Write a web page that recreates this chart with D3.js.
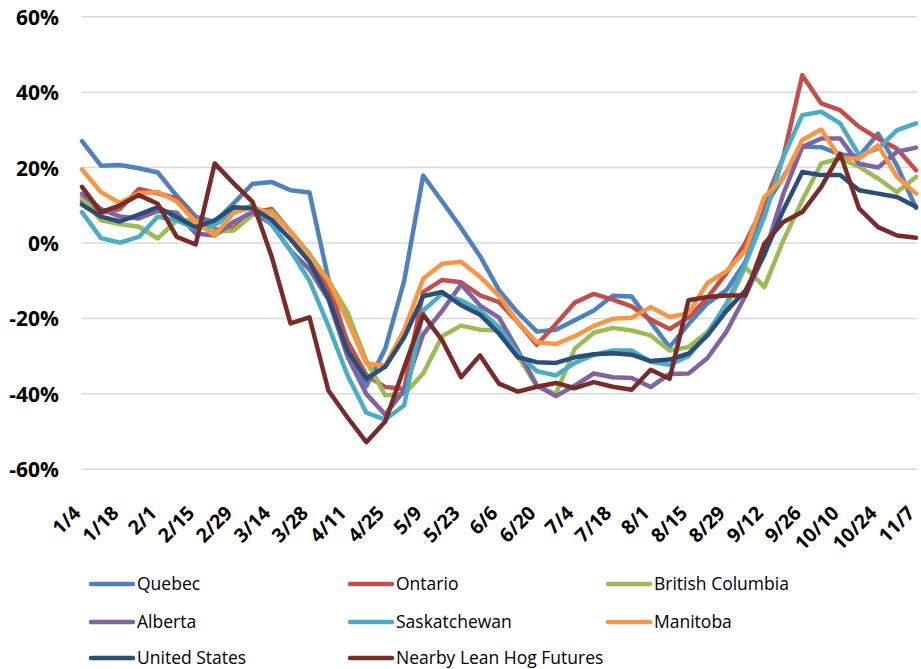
<!DOCTYPE html>
<html>
<head>
<meta charset="utf-8">
<script src="https://cdn.jsdelivr.net/npm/d3@7"></script>
<style>
  html, body { margin: 0; padding: 0; background: #fff; }
  svg { display: block; }
  .tick-y { font-family: "Open Sans", sans-serif; font-weight: 700; font-size: 21px; fill: #000; }
  .tick-x { font-family: "Open Sans", sans-serif; font-weight: 700; font-size: 19.5px; fill: #000; }
  .legend-text { font-family: "Open Sans", sans-serif; font-size: 17.5px; fill: #000; }
</style>
</head>
<body>
<svg id="chart" width="921" height="669"></svg>
<script>
// Weekly dates (2020), one per observation
const weeks = ["1/4","1/11","1/18","1/25","2/1","2/8","2/15","2/22","2/29","3/7","3/14","3/21","3/28",
  "4/4","4/11","4/18","4/25","5/2","5/9","5/16","5/23","5/30","6/6","6/13","6/20","6/27","7/4",
  "7/11","7/18","7/25","8/1","8/8","8/15","8/22","8/29","9/5","9/12","9/19","9/26","10/3","10/10",
  "10/17","10/24","10/31","11/7"];

// Year-over-year change, percent
const quebec = [27, 20.5, 20.7, 19.8, 18.7, 12.5, 7, 5.5, 10.5, 15.7, 16.2, 14, 13.4, -9.6, -27, -38, -28, -10, 17.9, 11, 4, -3.5, -12.5, -18.5, -23.5, -23, -20.5, -17.9, -14, -14.2, -21, -27.6, -21.5, -16, -12.5, -5, 9.5, 17.5, 25.6, 25.4, 23.5, 23, 29, 20.5, 9.3];
const ontario = [11, 8, 9, 14.3, 13.2, 11.8, 6, 3.5, 4, 8, 9, 3, -3, -12, -26, -35, -38.2, -38.7, -13, -9.8, -10.4, -13.9, -15.7, -21, -27, -21.5, -15.8, -13.5, -15, -16.8, -20.3, -22.8, -19.7, -14.5, -8, 0, 10.4, 22.8, 44.5, 37, 35.2, 30.8, 27.7, 25, 19.3];
const britishColumbia = [12, 6, 5, 4.3, 1.2, 6, 6, 3, 3.3, 7.5, 8.5, 3, -3, -9.9, -18.3, -31.2, -40.4, -40, -34.6, -24.7, -21.9, -23, -23.2, -30, -38, -40, -28, -23.8, -22.5, -23.2, -24.5, -28.5, -27.6, -23.6, -17, -6.4, -11.7, 0.7, 11.3, 21.1, 22.4, 20.2, 17.1, 13.5, 17.5];
const alberta = [13, 9, 7, 6.5, 8.5, 8, 2.5, 2, 5.6, 8.2, 5, -2, -7, -15, -30, -40, -45.5, -39, -24.2, -18, -11, -16.6, -19.8, -28.5, -37.8, -40.6, -37.8, -34.6, -35.6, -35.8, -38.2, -34.7, -34.6, -30.5, -23.5, -14, -3, 13, 25.5, 27.7, 27.7, 21, 20, 24.2, 25.3];
const saskatchewan = [8.2, 1.3, 0.1, 1.6, 7, 6, 3.8, 4.7, 8.2, 10, 5, -2, -10, -22, -35, -45, -46.8, -43, -17.9, -13.5, -15.2, -17.9, -22.3, -29.4, -34, -35.1, -31.8, -29.7, -28.5, -28.5, -31.5, -32.3, -30, -24, -16, -5.5, 6.9, 22.8, 33.9, 34.8, 31.7, 23.3, 25, 29.9, 31.7];
const manitoba = [19.5, 13.5, 10.6, 13.2, 13.5, 11, 5.6, 2, 8, 9.5, 7.8, 3, -3.5, -10, -20.5, -32, -32.5, -23, -9.5, -5.5, -5, -9, -14, -21, -26.3, -26.8, -24.7, -22, -20.1, -19.8, -17, -19.6, -18.6, -10.6, -7.5, -2, 12.2, 17.1, 27.3, 30.1, 22.4, 22.4, 25.9, 17.5, 13.1];
const unitedStates = [10.2, 7, 5.7, 7.5, 9.5, 6.8, 4.2, 6, 9.5, 9.2, 6.2, 1, -5, -14.5, -28.5, -36, -32.8, -25, -14.1, -13, -16.5, -19, -24, -30.3, -31.6, -31.8, -30.3, -29.5, -29.2, -29.6, -31.3, -30.9, -29.3, -24.5, -18, -12.6, -3, 8.7, 18.8, 18, 18, 14, 13.1, 12.2, 9.6];
const leanHogFutures = [14.9, 8.2, 10, 12.7, 10.4, 1.6, -0.4, 21.1, 15.8, 10.9, -3.5, -21.3, -19.7, -39.1, -46.2, -52.8, -47.3, -33, -19, -25.8, -35.6, -29.8, -37.3, -39.4, -38.1, -37.1, -38.5, -36.9, -38.1, -38.9, -33.6, -36, -15.2, -14.3, -13.9, -13.9, -0.2, 5.6, 8.2, 14.9, 23.7, 9.1, 4.2, 2, 1.4];

const seriesNames = ["Quebec", "Ontario", "British Columbia", "Alberta", "Saskatchewan", "Manitoba", "United States", "Nearby Lean Hog Futures"];
const seriesValues = [quebec, ontario, britishColumbia, alberta, saskatchewan, manitoba, unitedStates, leanHogFutures];
const seriesColors = ["#4F81BD", "#C0504D", "#9BBB59", "#8064A2", "#4BACC6", "#F79646", "#2C4D75", "#772C2A"];

const yTicks = [-60, -40, -20, 0, 20, 40, 60];
const xTickLabels = weeks.filter((d, i) => i % 2 === 0);

const svg = d3.select("#chart");

const x = d3.scalePoint().domain(weeks).range([82, 916]);
const y = d3.scaleLinear().domain([-60, 60]).range([469.3, 16.7]);

// Horizontal gridlines
svg.append("g")
  .selectAll("line")
  .data(yTicks)
  .join("line")
  .attr("x1", 82).attr("x2", 917)
  .attr("y1", d => y(d)).attr("y2", d => y(d))
  .attr("stroke", "#D9D9D9")
  .attr("stroke-width", 1.5);

// Y axis labels
const yAxis = d3.axisLeft(y).tickValues(yTicks).tickFormat(d => d + "%").tickSize(0).tickPadding(0);
const yAxisG = svg.append("g").attr("transform", "translate(59,0)").call(yAxis);
yAxisG.select(".domain").remove();
yAxisG.selectAll("text").attr("class", "tick-y").attr("font-family", null).attr("font-size", null).attr("dy", "0.36em");

// X axis labels, rotated
const xAxis = d3.axisBottom(x).tickValues(xTickLabels).tickSize(0).tickPadding(0);
const xAxisG = svg.append("g").attr("transform", "translate(0,469.3)").call(xAxis);
xAxisG.select(".domain").remove();
xAxisG.selectAll("text")
  .attr("class", "tick-x")
  .attr("font-family", null).attr("font-size", null)
  .attr("y", 0).attr("dy", 0)
  .attr("text-anchor", "end")
  .attr("transform", "translate(-0.5,45) rotate(-45)");

// Series lines
const line = d3.line()
  .x((d, i) => x(weeks[i]))
  .y(d => y(d));

svg.append("g")
  .selectAll("path")
  .data(seriesValues)
  .join("path")
  .attr("d", d => line(d))
  .attr("fill", "none")
  .attr("stroke", (d, i) => seriesColors[i])
  .attr("stroke-width", 4.5)
  .attr("stroke-linejoin", "round")
  .attr("stroke-linecap", "round");

// Legend: three columns
const legendCols = [91, 350, 608];
const legendRows = [584, 622, 658];
const legend = svg.append("g")
  .selectAll("g")
  .data(seriesNames)
  .join("g")
  .attr("transform", (d, i) => `translate(${legendCols[i % 3]},${legendRows[Math.floor(i / 3)]})`);

legend.append("line")
  .attr("x1", 0).attr("x2", 42)
  .attr("y1", 0).attr("y2", 0)
  .attr("stroke", (d, i) => seriesColors[i])
  .attr("stroke-width", 4.5)
  .attr("stroke-linecap", "round");

legend.append("text")
  .attr("class", "legend-text")
  .attr("x", 46)
  .attr("dy", "0.35em")
  .text(d => d);
</script>
</body>
</html>
